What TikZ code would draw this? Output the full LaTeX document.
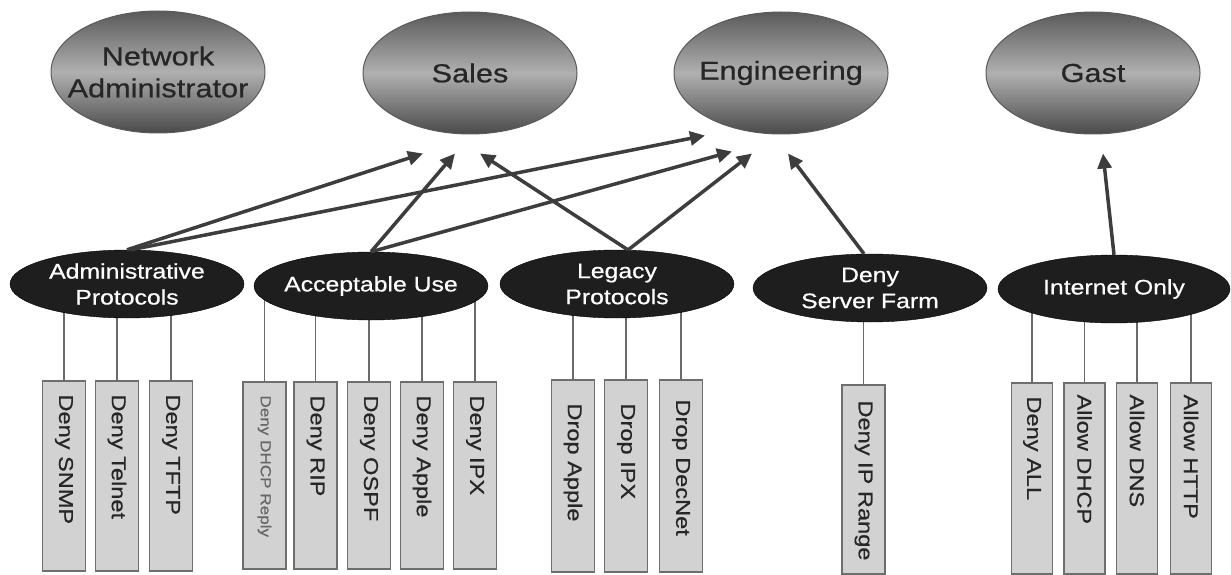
\documentclass[tikz,border=0pt]{standalone}
\usepackage{fontspec}
\setmainfont{Liberation Sans}
\newfontfamily\widefont[FakeStretch=1.18,FakeBold=0.6]{Liberation Sans}
\usetikzlibrary{shapes.geometric,arrows.meta,calc,backgrounds}
\definecolor{topdark}{HTML}{5A5A5A}
\definecolor{toplight}{HTML}{B0B0B0}
\definecolor{botdark}{HTML}{4A4A4A}
\definecolor{topedge}{HTML}{5A5A5A}
\definecolor{midfill}{HTML}{1E1E1E}
\definecolor{boxfill}{HTML}{D2D2D2}
\definecolor{boxedge}{HTML}{6E6E6E}
\definecolor{conngray}{HTML}{6A6A6A}
\definecolor{arrowgray}{HTML}{3D3D3D}
\begin{document}
\begin{tikzpicture}[x=1pt,y=-1pt,
  topell/.style={ellipse, draw=topedge, line width=1pt, top color=topdark, bottom color=botdark, middle color=toplight, minimum width=214pt, minimum height=122pt, inner sep=0pt},
  toptext/.style={font=\widefont\fontsize{26}{32}\selectfont, text=black!85, align=center, inner sep=0pt},
  midell/.style={ellipse, draw=black, fill=midfill, minimum width=234pt, minimum height=68pt, inner sep=0pt},
  midtext/.style={font=\widefont\fontsize{21}{26}\selectfont, text=white, align=center, inner sep=0pt},
  rbox/.style={rectangle, draw=boxedge, line width=1.5pt, fill=boxfill, minimum width=43pt, inner sep=0pt},
  rtext/.style={font=\widefont\fontsize{20}{24}\selectfont, rotate=-90, anchor=west, inner sep=0pt, text=black!85},
  stext/.style={font=\widefont\fontsize{14.5}{18}\selectfont, rotate=-90, anchor=west, inner sep=0pt, text=black!60},
  conn/.style={draw=conngray, line width=1.6pt},
  arr/.style={draw=arrowgray, line width=3.5pt, -{Triangle[length=15pt,width=14pt]}}
]
\useasboundingbox (0,0) rectangle (1231,575);

% top ellipses
\node[topell, label={[toptext]center:Network\\Administrator}] (na) at (158,72) {};
\node[topell, label={[toptext]center:Sales}] (sales) at (470,73) {};
\node[topell, label={[toptext]center:Engineering}] (eng) at (781,73) {};
\node[topell, label={[toptext]center:Gast}] (gast) at (1093,73) {};

% middle ellipses
\node[midell, label={[midtext]center:Administrative\\Protocols}] (ap) at (127,284) {};
\node[midell, label={[midtext]center:Acceptable Use}] (au) at (371,286) {};
\node[midell, label={[midtext]center:Legacy\\Protocols}] (lp) at (617,284) {};
\node[midell, label={[midtext]center:Deny\\Server Farm}] (sf) at (870,288) {};
\node[midell, minimum width=232pt, label={[midtext]center:Internet Only}] (io) at (1114,289) {};

% boxes: administrative
\begin{scope}[rbox/.append style={minimum height=190pt}]
\node[rbox] (b1) at (64,476) {};
\node[rbox] (b2) at (117,476) {};
\node[rbox] (b3) at (171,476) {};
\end{scope}
% acceptable use
\begin{scope}[rbox/.append style={minimum height=187pt}]
\node[rbox] (c1) at (264.5,475.5) {};
\node[rbox] (c2) at (315.5,475.5) {};
\node[rbox] (c3) at (369,475.5) {};
\node[rbox] (c4) at (422,475.5) {};
\node[rbox] (c5) at (475,475.5) {};
\end{scope}
% legacy
\begin{scope}[rbox/.append style={minimum height=192pt}]
\node[rbox] (d1) at (573,476) {};
\node[rbox] (d2) at (626,476) {};
\node[rbox] (d3) at (681,476) {};
\end{scope}
% server farm
\node[rbox, minimum height=189pt] (e1) at (863.5,479.5) {};
% internet only
\begin{scope}[rbox/.append style={minimum height=191pt, minimum width=41pt}]
\node[rbox] (f1) at (1032,478.5) {};
\node[rbox] (f2) at (1084.5,478.5) {};
\node[rbox] (f3) at (1137,478.5) {};
\node[rbox] (f4) at (1191,478.5) {};
\end{scope}

% box texts
\node[rtext] (tb1) at ($(b1.north)+(0,14)$) {Deny SNMP};
\node[rtext] (tb2) at ($(b2.north)+(0,14)$) {Deny Telnet};
\node[rtext] (tb3) at ($(b3.north)+(0,14)$) {Deny TFTP};
\node[stext] (tc1) at ($(c1.north)+(0,14)$) {Deny DHCP Reply};
\node[rtext] (tc2) at ($(c2.north)+(0,14)$) {Deny RIP};
\node[rtext] (tc3) at ($(c3.north)+(0,14)$) {Deny OSPF};
\node[rtext] (tc4) at ($(c4.north)+(0,14)$) {Deny Apple};
\node[rtext] (tc5) at ($(c5.north)+(0,14)$) {Deny IPX};
\node[rtext] (td1) at ($(d1.north)+(0,24)$) {Drop Apple};
\node[rtext] (td2) at ($(d2.north)+(0,24)$) {Drop IPX};
\node[rtext] (td3) at ($(d3.north)+(0,20)$) {Drop DecNet};
\node[rtext] (te1) at ($(e1.north)+(0,16)$) {Deny IP Range};
\node[rtext] (tf1) at ($(f1.north)+(0,14)$) {Deny ALL};
\node[rtext] (tf2) at ($(f2.north)+(0,12)$) {Allow DHCP};
\node[rtext] (tf3) at ($(f3.north)+(0,12)$) {Allow DNS};
\node[rtext] (tf4) at ($(f4.north)+(0,12)$) {Allow HTTP};

% vertical connectors behind ellipses
\begin{scope}[on background layer]
\foreach \b/\e in {b1/ap,b2/ap,b3/ap,c1/au,c2/au,c3/au,c4/au,c5/au,d1/lp,d2/lp,d3/lp,e1/sf,f1/io,f2/io,f3/io,f4/io}
  \draw[conn] (\b.north) -- (\b.north |- \e.center);
\end{scope}

% arrows
\draw[arr] (ap.north) -- ($(sales.south)+(-47,19)$);
\draw[arr] ($(ap.north)+(4,0)$) -- ($(eng.south)+(-76,1)$);
\draw[arr] (au.north) -- ($(sales.south)+(-15,19)$);
\draw[arr] (au.north) -- ($(eng.south)+(-49,17)$);
\draw[arr] (lp.72) -- ($(sales.south)+(10,19)$);
\draw[arr] (lp.72) -- ($(eng.south)+(-29,19)$);
\draw[arr] (sf.100) -- ($(eng.south)+(7,19)$);
\draw[arr] (io.north) -- ($(gast.south)+(10,19)$);
\end{tikzpicture}
\end{document}
